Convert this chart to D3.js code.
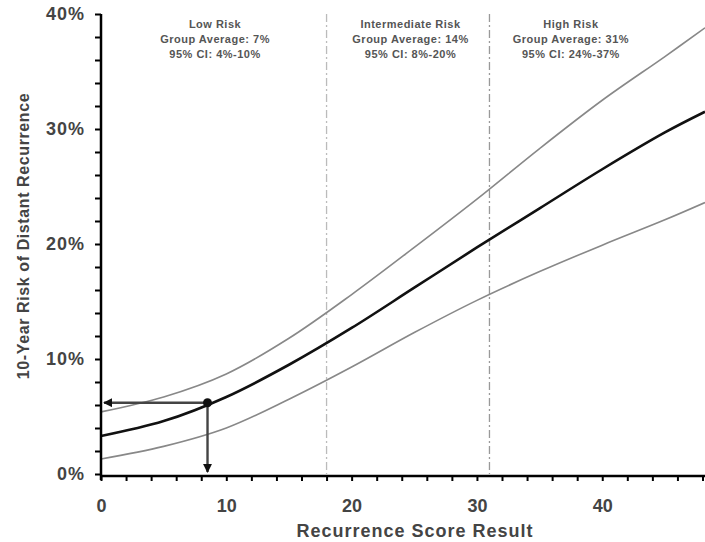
<!DOCTYPE html>
<html>
<head>
<meta charset="utf-8">
<script src="https://cdn.jsdelivr.net/npm/d3@7"></script>
<style>
  body { margin: 0; background: #fff; }
  svg { font-family: "Liberation Sans", Arial, sans-serif; }
</style>
</head>
<body>
<script>
// recurrence score -> 10-year risk (%)
const scoreX = [0, 5, 10, 15, 20, 25, 30, 35, 40, 45, 48.2];
const riskMid = [3.3, 4.6, 6.7, 9.5, 12.7, 16.2, 19.7, 23.1, 26.5, 29.7, 31.5];
const riskUpper = [5.4, 6.7, 8.7, 11.8, 15.6, 19.7, 23.9, 28.3, 32.5, 36.3, 38.8];
const riskLower = [1.3, 2.4, 4.0, 6.5, 9.3, 12.3, 15.1, 17.6, 19.9, 22.1, 23.6];
const cutoffs = [18, 31];
const xTicks = [0, 10, 20, 30, 40];
const yTicks = [0, 10, 20, 30, 40];
const marker = { score: 8.5, risk: 6.2 };
const groups = [
  { at: 9.1, lines: ["Low Risk", "Group Average: 7%", "95% CI: 4%-10%"] },
  { at: 24.7, lines: ["Intermediate Risk", "Group Average: 14%", "95% CI: 8%-20%"] },
  { at: 37.5, lines: ["High Risk", "Group Average: 31%", "95% CI: 24%-37%"] }
];

const margin = { top: 14, right: 0, bottom: 68, left: 101 },
      W = 705, H = 542;

const svg = d3.select("body").append("svg")
  .attr("width", W).attr("height", H);

const x = d3.scaleLinear().domain([0, 48.2]).range([margin.left, W - margin.right]);
const y = d3.scaleLinear().domain([0, 40]).range([H - margin.bottom, margin.top]);

const defs = svg.append("defs");
defs.append("marker")
  .attr("id", "arr")
  .attr("viewBox", "0 0 10 10")
  .attr("refX", 9).attr("refY", 5)
  .attr("markerWidth", 9).attr("markerHeight", 9)
  .attr("markerUnits", "userSpaceOnUse")
  .attr("orient", "auto")
  .append("path").attr("d", "M0,0L10,5L0,10Z").attr("fill", "#111");

// cutoff lines
svg.selectAll(".cut").data(cutoffs).enter().append("line")
  .attr("x1", d => x(d)).attr("x2", d => x(d))
  .attr("y1", y(40)).attr("y2", y(0))
  .attr("stroke", (d, i) => i ? "#999" : "#bbb").attr("stroke-width", 1.3)
  .attr("stroke-dasharray", "8,3,2,3");

// group labels
groups.forEach(g => {
  const t = svg.append("text")
    .attr("x", x(g.at)).attr("y", 28)
    .attr("text-anchor", "middle")
    .style("font-size", "11px").style("font-weight", "bold")
    .style("letter-spacing", "0.5px")
    .attr("fill", "#555");
  g.lines.forEach((s, i) => t.append("tspan")
    .attr("x", x(g.at)).attr("dy", i ? 15 : 0).text(s));
});

const line = d3.line()
  .x((d, i) => x(scoreX[i]))
  .y(d => y(d))
  .curve(d3.curveCatmullRom);

svg.append("path").datum(riskUpper).attr("d", line)
  .attr("fill", "none").attr("stroke", "#888").attr("stroke-width", 1.6);
svg.append("path").datum(riskLower).attr("d", line)
  .attr("fill", "none").attr("stroke", "#888").attr("stroke-width", 1.6);
svg.append("path").datum(riskMid).attr("d", line)
  .attr("fill", "none").attr("stroke", "#111").attr("stroke-width", 2.6);

// arrows from example point
svg.append("line")
  .attr("x1", x(marker.score)).attr("y1", y(marker.risk))
  .attr("x2", x(0) + 3).attr("y2", y(marker.risk))
  .attr("stroke", "#444").attr("stroke-width", 2.4)
  .attr("marker-end", "url(#arr)");
svg.append("line")
  .attr("x1", x(marker.score)).attr("y1", y(marker.risk))
  .attr("x2", x(marker.score)).attr("y2", y(0) - 2)
  .attr("stroke", "#444").attr("stroke-width", 2.4)
  .attr("marker-end", "url(#arr)");
svg.append("circle")
  .attr("cx", x(marker.score)).attr("cy", y(marker.risk)).attr("r", 4.5)
  .attr("fill", "#111");

// axes
const xAxis = d3.axisBottom(x)
  .tickValues(d3.range(0, 49, 2))
  .tickSize(5)
  .tickFormat(d => xTicks.includes(d) ? d : "");
const gx = svg.append("g")
  .attr("transform", "translate(0," + (y(0) + 2) + ")")
  .call(xAxis);
gx.select(".domain").attr("d", "M" + x(0) + ",0H" + W).attr("stroke-width", 2.5);
gx.selectAll(".tick line").attr("stroke-width", 2);
gx.selectAll(".tick text").attr("y", 36).attr("dy", 0)
  .style("font-size", "18px").style("font-weight", "bold").attr("fill", "#444");

const yAxis = d3.axisLeft(y)
  .tickValues(d3.range(0, 41, 2))
  .tickSize(6)
  .tickFormat(d => yTicks.includes(d) ? d + "%" : "");
const gy = svg.append("g")
  .attr("transform", "translate(" + x(0) + ",0)")
  .call(yAxis);
gy.select(".domain").attr("d", "M0," + (y(0) + 6) + "V" + y(40)).attr("stroke-width", 2.5);
gy.selectAll(".tick line").attr("stroke-width", 2);
gy.selectAll(".tick text").attr("x", -16)
  .style("font-size", "18px").style("font-weight", "bold")
  .style("letter-spacing", "1px").attr("fill", "#444");

svg.append("text")
  .attr("transform", "rotate(-90)")
  .attr("x", -236).attr("y", 29)
  .attr("text-anchor", "middle")
  .style("font-size", "16px").style("font-weight", "bold")
  .style("letter-spacing", "0.6px").attr("fill", "#444")
  .text("10-Year Risk of Distant Recurrence");

svg.append("text")
  .attr("x", 415).attr("y", 537)
  .attr("text-anchor", "middle")
  .style("font-size", "18px").style("font-weight", "bold")
  .style("letter-spacing", "1px").attr("fill", "#444")
  .text("Recurrence Score Result");
</script>
</body>
</html>
